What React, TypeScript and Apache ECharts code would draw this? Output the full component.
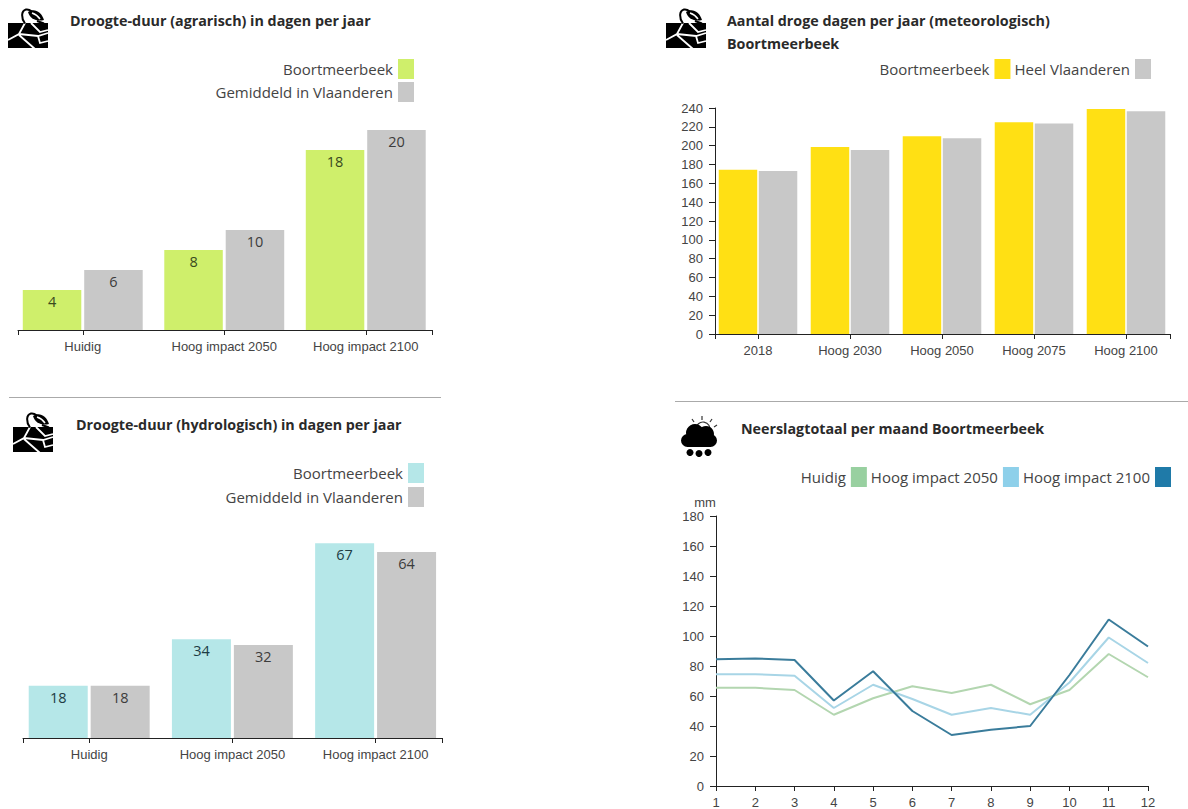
import React, { useEffect, useRef } from "react";
import * as echarts from "echarts";

// Drought and precipitation figures for Boortmeerbeek
const impactCategories = ["Huidig", "Hoog impact 2050", "Hoog impact 2100"];
const agriLocal = [4, 8, 18];
const agriFlanders = [6, 10, 20];
const hydroLocal = [18, 34, 67];
const hydroFlanders = [18, 32, 64];

const meteoCategories = ["2018", "Hoog 2030", "Hoog 2050", "Hoog 2075", "Hoog 2100"];
const meteoLocal = [174.5, 198.5, 210, 225, 239];
const meteoFlanders = [173, 195.5, 208, 223.5, 236.5];

const months = ["1", "2", "3", "4", "5", "6", "7", "8", "9", "10", "11", "12"];
const rainNow = [65.5, 65.5, 64, 47.5, 58.5, 66.5, 62, 67.5, 54.5, 64, 88, 72.5];
const rain2050 = [74.5, 74.5, 73.5, 52, 67.5, 58, 47.5, 52, 47.5, 69, 99, 82];
const rain2100 = [84.5, 85, 84, 57, 76.5, 50, 34, 37.5, 40, 74, 111, 93];

const LOCAL = "Boortmeerbeek";
const AVERAGE = "Gemiddeld in Vlaanderen";
const WHOLE = "Heel Vlaanderen";
const NOW = "Huidig";
const H2050 = "Hoog impact 2050";
const H2100 = "Hoog impact 2100";

const GREY = "#c8c8c8";
const LIME = "#cfef6b";
const YELLOW = "#ffe014";
const AQUA = "#b5e7e8";
const AXIS = "#222222";
const TICK_TEXT = "#444444";
const UI_FONT = "'Open Sans', 'Noto Sans', sans-serif";
const AXIS_FONT = "'Liberation Sans', Arial, sans-serif";

// Soil block with cracks, stem and leaf, drawn in a 40x40 box
const SOIL_D = "M0 15H40V40H0Z";
const CRACK_D = "M17 15L11 26L0 32M11 26L30 28L40 25M23 15L32 24L40 22M11 27L27 41M30 28L32 35L40 33";
const LEAF_D = "M20 4C26 0 33 3 36 12C29 14 22 11 20 4Z";
const VEIN_D = "M24 5C27 6 30 8 32 11";
const STEM_D = "M17 15.5C13 10 13 3 18 1.5C20 1 22 2 24 3.5M29 13L36 15.5";

echarts.graphic.registerShape("soilShape", echarts.graphic.extendPath(SOIL_D as any, {}) as any);
echarts.graphic.registerShape("crackShape", echarts.graphic.extendPath(CRACK_D as any, {}) as any);
echarts.graphic.registerShape("leafShape", echarts.graphic.extendPath(LEAF_D as any, {}) as any);
echarts.graphic.registerShape("veinShape", echarts.graphic.extendPath(VEIN_D as any, {}) as any);
echarts.graphic.registerShape("stemShape", echarts.graphic.extendPath(STEM_D as any, {}) as any);

function soilIcon(x: number, y: number) {
  return {
    type: "group",
    x,
    y,
    children: [
      { type: "soilShape", style: { fill: "#000" } },
      { type: "crackShape", style: { fill: "none", stroke: "#fff", lineWidth: 1.8 } },
      { type: "leafShape", style: { fill: "#000" } },
      { type: "veinShape", style: { fill: "none", stroke: "#fff", lineWidth: 1.5 } },
      { type: "stemShape", style: { fill: "none", stroke: "#000", lineWidth: 2 } },
    ],
  };
}

function weatherIcon(x: number, y: number) {
  const rays = [
    [21, -3, 21, 1],
    [11, 0, 13, 3],
    [31, 0, 29, 3],
    [36, 6, 33, 8],
  ];
  return {
    type: "group",
    x,
    y,
    children: [
      ...rays.map(([x1, y1, x2, y2]) => ({
        type: "line",
        shape: { x1, y1, x2, y2 },
        style: { stroke: "#333", lineWidth: 1.2 },
      })),
      { type: "arc", shape: { cx: 22, cy: 10, r: 7, startAngle: Math.PI, endAngle: 0.3 }, style: { stroke: "#333", fill: "none", lineWidth: 1.2 } },
      { type: "circle", shape: { cx: 14, cy: 14, r: 9 }, style: { fill: "#000" } },
      { type: "circle", shape: { cx: 25, cy: 15, r: 8 }, style: { fill: "#000" } },
      { type: "rect", shape: { x: 0, y: 15, width: 36, height: 13, r: 6.5 }, style: { fill: "#000" } },
      { type: "circle", shape: { cx: 9, cy: 33.5, r: 3.5 }, style: { fill: "#000" } },
      { type: "circle", shape: { cx: 18, cy: 34.5, r: 3.5 }, style: { fill: "#000" } },
      { type: "circle", shape: { cx: 27, cy: 33.5, r: 3.5 }, style: { fill: "#000" } },
    ],
  };
}

function heading(text: string, left: number, top: number) {
  return {
    text,
    left,
    top,
    padding: 0,
    textStyle: { fontFamily: UI_FONT, fontSize: 14.3, fontWeight: "bold", color: "#2a2a2a", lineHeight: 23 },
  };
}

function swatchLegend(entries: [string, string][], right: number, top: number) {
  return {
    right,
    top,
    padding: 0,
    orient: "horizontal",
    align: "right",
    itemGap: 4,
    itemWidth: 16,
    itemHeight: 20,
    icon: "rect",
    selectedMode: false,
    textStyle: { fontFamily: UI_FONT, fontSize: 15, color: TICK_TEXT },
    data: entries.map(([name, color]) => ({ name, icon: "rect", itemStyle: { color, borderWidth: 0 } })),
  };
}

type Panel = {
  band: [number, number];
  domain: [number, number];
  top: number;
  height: number;
  max: number;
  categories: string[];
  barWidth: number;
  barGap: string;
  series: { name: string; data: number[]; color: string; label?: string }[];
  valueAxis?: boolean;
};

const panels: Panel[] = [
  {
    band: [12, 424.5],
    domain: [18, 432],
    top: 130,
    height: 200,
    max: 20,
    categories: impactCategories,
    barWidth: 58.5,
    barGap: "5%",
    series: [
      { name: LOCAL, data: agriLocal, color: LIME, label: "#3a4a1e" },
      { name: AVERAGE, data: agriFlanders, color: GREY, label: "#3c3c3c" },
    ],
  },
  {
    band: [712, 460],
    domain: [715, 1170],
    top: 108,
    height: 226,
    max: 240,
    categories: meteoCategories,
    barWidth: 38.5,
    barGap: "4%",
    series: [
      { name: LOCAL, data: meteoLocal, color: YELLOW },
      { name: WHOLE, data: meteoFlanders, color: GREY },
    ],
    valueAxis: true,
  },
  {
    band: [17.6, 429.6],
    domain: [23, 442],
    top: 534.5,
    height: 203.5,
    max: 70,
    categories: impactCategories,
    barWidth: 59,
    barGap: "5%",
    series: [
      { name: LOCAL, data: hydroLocal, color: AQUA, label: "#203c44" },
      { name: AVERAGE, data: hydroFlanders, color: GREY, label: "#3c3c3c" },
    ],
  },
];

const axisLabelStyle = { fontFamily: AXIS_FONT, fontSize: 13, color: TICK_TEXT };
const axisStroke = { lineStyle: { color: AXIS, width: 1 } };

function buildOption() {
  const grid: any[] = [];
  const xAxis: any[] = [];
  const yAxis: any[] = [];
  const series: any[] = [];

  panels.forEach((p) => {
    // Bars sit on a band scale whose outer edges overshoot the visible axis line
    const bandIdx = grid.length;
    grid.push({ left: p.band[0], top: p.top, width: p.band[1], height: p.height });
    xAxis.push({
      type: "category",
      gridIndex: bandIdx,
      data: p.categories,
      axisLine: { show: false },
      axisTick: { show: true, alignWithLabel: true, length: 5, ...axisStroke },
      axisLabel: { ...axisLabelStyle, margin: 10, interval: 0 },
    });
    yAxis.push({ type: "value", gridIndex: bandIdx, min: 0, max: p.max, show: false, splitLine: { show: false } });
    p.series.forEach((s) => {
      series.push({
        type: "bar",
        name: s.name,
        xAxisIndex: bandIdx,
        yAxisIndex: bandIdx,
        data: s.data,
        barWidth: p.barWidth,
        barGap: p.barGap,
        itemStyle: { color: s.color },
        label: s.label
          ? {
              show: true,
              position: "insideTop",
              distance: 4,
              fontFamily: UI_FONT,
              fontSize: 14.5,
              color: s.label,
            }
          : { show: false },
      });
    });

    // Domain line with end ticks, plus the value scale where the panel has one
    const lineIdx = grid.length;
    grid.push({ left: p.domain[0], top: p.top, width: p.domain[1] - p.domain[0], height: p.height });
    xAxis.push({
      type: "value",
      gridIndex: lineIdx,
      min: 0,
      max: 1,
      interval: 1,
      axisLine: { show: true, ...axisStroke },
      axisTick: { show: true, length: 5, ...axisStroke },
      axisLabel: { show: false },
      splitLine: { show: false },
    });
    yAxis.push({
      type: "value",
      gridIndex: lineIdx,
      min: 0,
      max: p.max,
      interval: p.valueAxis ? 20 : p.max,
      show: !!p.valueAxis,
      axisLine: { show: true, ...axisStroke },
      axisTick: { show: true, length: 6, ...axisStroke },
      axisLabel: { ...axisLabelStyle, margin: 12 },
      splitLine: { show: false },
    });
  });

  // Monthly precipitation lines
  const rainIdx = grid.length;
  grid.push({ left: 716, top: 516, width: 432, height: 270 });
  xAxis.push({
    type: "category",
    gridIndex: rainIdx,
    data: months,
    boundaryGap: false,
    axisLine: { show: true, ...axisStroke },
    axisTick: { show: true, length: 5, ...axisStroke },
    axisLabel: { ...axisLabelStyle, margin: 10, interval: 0 },
  });
  yAxis.push({
    type: "value",
    gridIndex: rainIdx,
    min: 0,
    max: 180,
    interval: 20,
    name: "mm",
    nameGap: 7,
    nameTextStyle: { ...axisLabelStyle, align: "center", padding: [0, 22, 0, 0] },
    axisLine: { show: true, ...axisStroke },
    axisTick: { show: true, length: 6, ...axisStroke },
    axisLabel: { ...axisLabelStyle, margin: 12 },
    splitLine: { show: false },
  });
  const rainLines: [string, number[], string, number][] = [
    [NOW, rainNow, "#b3d6b0", 2],
    [H2050, rain2050, "#a8d5e6", 2],
    [H2100, rain2100, "#3a7c9b", 2],
  ];
  rainLines.forEach(([name, data, color, width]) => {
    series.push({
      type: "line",
      name,
      xAxisIndex: rainIdx,
      yAxisIndex: rainIdx,
      data,
      symbol: "none",
      itemStyle: { color },
      lineStyle: { color, width },
    });
  });

  return {
    animation: false,
    backgroundColor: "#ffffff",
    title: [
      heading("Droogte-duur (agrarisch) in dagen per jaar", 70, 9),
      heading("Aantal droge dagen per jaar (meteorologisch)\nBoortmeerbeek", 727, 9),
      heading("Droogte-duur (hydrologisch) in dagen per jaar", 76, 413),
      heading("Neerslagtotaal per maand Boortmeerbeek", 741, 417),
    ],
    legend: [
      swatchLegend([[LOCAL, LIME]], 774, 59),
      swatchLegend([[AVERAGE, GREY]], 774, 82),
      swatchLegend([[LOCAL, YELLOW], [WHOLE, GREY]], 37, 59),
      swatchLegend([[LOCAL, AQUA]], 764, 463),
      swatchLegend([[AVERAGE, GREY]], 764, 487),
      swatchLegend([[NOW, "#98d0a0"], [H2050, "#8ed0ea"], [H2100, "#1f7aa8"]], 17, 467),
    ],
    grid,
    xAxis,
    yAxis,
    series,
    graphic: [
      soilIcon(8, 8),
      soilIcon(666, 8),
      soilIcon(13, 412),
      weatherIcon(681, 419),
      { type: "line", shape: { x1: 9, y1: 397.5, x2: 441, y2: 397.5 }, style: { stroke: "#aaaaaa", lineWidth: 1 } },
      { type: "line", shape: { x1: 675, y1: 401.5, x2: 1188, y2: 401.5 }, style: { stroke: "#aaaaaa", lineWidth: 1 } },
    ],
  };
}

export default function App() {
  const ref = useRef<HTMLDivElement>(null);
  useEffect(() => {
    const chart = echarts.init(ref.current!, undefined, { renderer: "svg" });
    chart.setOption(buildOption() as any);
    return () => chart.dispose();
  }, []);
  return <div ref={ref} style={{ position: "fixed", left: 0, top: 0, width: 1188, height: 809 }} />;
}
